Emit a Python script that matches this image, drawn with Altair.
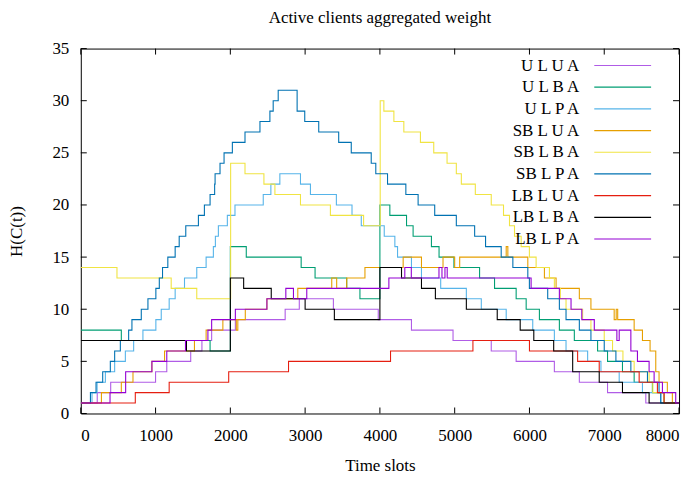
import altair as alt
import pandas as pd

# ---------------- data ----------------
names = ["U L U A", "U L B A", "U L P A", "SB L U A", "SB L B A",
         "SB L P A", "LB L U A", "LB L B A", "LB L P A"]
colors = ["#b05ce6", "#009e73", "#56b4e9", "#e69f00", "#f0e442",
          "#0072b2", "#e51e10", "#000000", "#9400d3"]

x_ticks = [0, 1000, 2000, 3000, 4000, 5000, 6000, 7000, 8000]
y_ticks = [0, 5, 10, 15, 20, 25, 30, 35]

T_ULUA = [0, 220, 400, 1000, 1150, 1470, 1620, 1750, 2067, 2733, 2922, 3378, 3978,
          4422, 4978, 5489, 5822, 6333, 6667, 7044, 7556]
V_ULUA = [1, 2, 3, 4, 5, 6, 7, 8, 9, 10, 11, 10, 9, 8, 7, 6, 5, 4, 3, 2, 1]

T_ULBA = [0, 542, 1729, 2000, 2213, 2947, 3133, 3556, 3733, 4000, 4133, 4356, 4444,
          4689, 4791, 4990, 5333, 5533, 5822, 5956, 6133, 6400, 6600, 6911, 7044,
          7244, 7400, 7644, 7800]
V_ULBA = [8, 7, 6, 16, 15, 14, 13, 12, 11, 20, 19, 18, 17, 16, 15, 14, 13, 12, 11,
          10, 9, 8, 7, 6, 5, 4, 3, 2, 1]

T_ULPA = [0, 150, 218, 329, 453, 596, 707, 831, 1004, 1076, 1182, 1262, 1387, 1551,
          1676, 1773, 1800, 1840, 1960, 2062, 2440, 2542, 2662, 2938, 3071, 3418,
          3627, 3751, 4058, 4200, 4236, 4422, 4556, 4813, 5156, 5356, 5689, 6044,
          6333, 6489, 6778, 6956, 7200, 7511, 7756]
V_ULPA = [1, 2, 3, 4, 5, 6, 7, 8, 9, 10, 11, 12, 13, 14, 15, 16, 17, 18, 19, 20,
          21, 22, 23, 22, 21, 20, 19, 18, 17, 16, 15, 14, 13, 12, 11, 10, 9, 8, 7,
          6, 5, 4, 3, 2, 1]

T_SBLUA = [0, 276, 542, 698, 951, 1120, 1520, 1676, 1900, 2080, 2100, 2200, 2489,
           2902, 3356, 3422, 3556, 3800, 4311, 4556, 4844, 5000, 5067, 5689, 5711,
           5978, 6200, 6356, 6667, 6822, 7133, 7160, 7180, 7400, 7511, 7613, 7689,
           7733, 7844, 7911]
V_SBLUA = [1, 2, 3, 4, 5, 6, 7, 8, 9, 8, 9, 10, 11, 12, 13, 12, 13, 14, 15, 14, 15,
           14, 15, 16, 15, 14, 13, 12, 11, 10, 9, 10, 9, 8, 7, 6, 4, 3, 2, 1]

T_SBLBA = [0, 484, 1209, 1551, 2004, 2196, 2449, 2596, 2938, 3338, 3782, 4004, 4053,
           4187, 4320, 4542, 4720, 4898, 5022, 5089, 5276, 5489, 5653, 5733, 5800,
           5889, 5999, 6089, 6267, 6333, 6413, 6489, 6711, 6822, 7000, 7111, 7250,
           7400, 7600, 7650, 7800]
V_SBLBA = [14, 13, 12, 11, 24, 23, 22, 21, 20, 19, 18, 30, 29, 28, 27, 26, 25, 24,
           23, 22, 21, 20, 19, 18, 17, 16, 15, 14, 13, 12, 11, 10, 9, 8, 7, 6, 5,
           4, 3, 2, 1]

T_SBLPA = [0, 129, 204, 293, 395, 453, 529, 640, 684, 809, 898, 1004, 1050, 1093,
           1164, 1262, 1316, 1404, 1573, 1653, 1729, 1790, 1796, 1862, 1916, 2027,
           2196, 2396, 2529, 2573, 2640, 2893, 2995, 3182, 3449, 3617, 3884, 3945,
           4102, 4347, 4511, 4733, 5022, 5267, 5413, 5622, 5778, 5978, 5999, 6244,
           6400, 6489, 6667, 6822, 7000, 7156, 7356, 7578, 7733, 7756]
V_SBLPA = [1, 2, 3, 4, 5, 6, 7, 8, 9, 10, 11, 12, 13, 14, 15, 16, 17, 18, 19, 20,
           21, 22, 23, 24, 25, 26, 27, 28, 29, 30, 31, 29, 28, 27, 26, 25, 24, 23,
           22, 21, 20, 19, 18, 17, 16, 15, 14, 13, 12, 11, 10, 9, 8, 7, 6, 5, 4, 3,
           2, 1]

T_LBLUA = [0, 729, 1182, 1978, 2778, 4142, 5244, 6000, 6644, 6933, 7467, 7711, 7800]
V_LBLUA = [1, 2, 3, 4, 5, 6, 7, 6, 5, 4, 3, 2, 1]

T_LBLBA = [0, 1413, 2000, 2178, 2547, 3000, 3391, 4000, 4289, 4556, 4742, 5156,
           5569, 5876, 6058, 6324, 6578, 6933, 7244, 7600]
V_LBLBA = [7, 6, 13, 12, 11, 10, 9, 14, 13, 12, 11, 10, 9, 8, 7, 6, 4, 3, 2, 1]

T_LBLPA = [0, 391, 600, 951, 1150, 1400, 1700, 1750, 2067, 2489, 2742, 2844, 3022,
           4120, 4333, 4420, 4790, 4830, 4870, 4900, 6022, 6400, 6556, 6700, 6867,
           7169, 7200, 7356, 7444, 7600, 7667, 7778, 7956]
V_LBLPA = [1, 2, 4, 5, 6, 7, 8, 9, 10, 11, 12, 11, 12, 13, 14, 13, 14, 13, 14, 13,
           12, 11, 10, 9, 8, 7, 8, 6, 5, 4, 3, 2, 1]

series = [
    (T_ULUA, V_ULUA), (T_ULBA, V_ULBA), (T_ULPA, V_ULPA),
    (T_SBLUA, V_SBLUA), (T_SBLBA, V_SBLBA), (T_SBLPA, V_SBLPA),
    (T_LBLUA, V_LBLUA), (T_LBLBA, V_LBLBA), (T_LBLPA, V_LBLPA),
]
T_END = 8000

# ---------------- chart ----------------
W, H = 600, 366
FONT = "Liberation Serif"
FS = 17

x_scale = alt.Scale(domain=[0, 8000], nice=False, zero=False)
y_scale = alt.Scale(domain=[0, 35], nice=False, zero=False)

layers = []
for i, (name, (T, V)) in enumerate(zip(names, series)):
    df = pd.DataFrame({"t": list(T) + [T_END], "v": list(V) + [V[-1]]})
    if i == 0:
        x_enc = alt.X("t:Q", scale=x_scale,
                      axis=alt.Axis(values=x_ticks, title="Time slots", format="d",
                                    labelPadding=14, titlePadding=14, ticks=False,
                                    domain=False, grid=False))
        y_enc = alt.Y("v:Q", scale=y_scale,
                      axis=alt.Axis(values=y_ticks, title="H(C(t))", format="d",
                                    labelPadding=12, titlePadding=26, ticks=False,
                                    domain=False, grid=False))
    else:
        x_enc = alt.X("t:Q", scale=x_scale)
        y_enc = alt.Y("v:Q", scale=y_scale)
    layers.append(
        alt.Chart(df).mark_line(interpolate="step-after", color=colors[i],
                                strokeWidth=1.1, clip=True)
        .encode(x=x_enc, y=y_enc)
    )

# inward ticks on all four sides
xt = pd.DataFrame({"t": x_ticks})
yt = pd.DataFrame({"v": y_ticks})
tick_bottom = alt.Chart(xt).mark_rule(color="black", strokeWidth=1).encode(
    x=alt.X("t:Q", scale=x_scale), y=alt.value(H), y2=alt.value(H - 6))
tick_top = alt.Chart(xt).mark_rule(color="black", strokeWidth=1).encode(
    x=alt.X("t:Q", scale=x_scale), y=alt.value(0), y2=alt.value(6))
tick_left = alt.Chart(yt).mark_rule(color="black", strokeWidth=1).encode(
    y=alt.Y("v:Q", scale=y_scale), x=alt.value(0), x2=alt.value(6))
tick_right = alt.Chart(yt).mark_rule(color="black", strokeWidth=1).encode(
    y=alt.Y("v:Q", scale=y_scale), x=alt.value(W), x2=alt.value(W - 6))

main = alt.layer(*layers, tick_bottom, tick_top, tick_left, tick_right)

# legend (inside, top right)
leg = pd.DataFrame({"series": names, "rank": list(range(len(names)))})
leg_y = alt.Y("rank:O", axis=None,
              scale=alt.Scale(type="point", range=[17, 191], padding=0))
leg_text = alt.Chart(leg).mark_text(align="right", baseline="middle", font=FONT,
                                    fontSize=FS, color="black").encode(
    y=leg_y, x=alt.value(500), text="series:N")
leg_line = alt.Chart(leg).mark_rule(strokeWidth=1.2).encode(
    y=leg_y, x=alt.value(515), x2=alt.value(572),
    color=alt.Color("series:N", scale=alt.Scale(domain=names, range=colors),
                    legend=None))
legend = alt.layer(leg_text, leg_line)

chart = alt.layer(main, legend).resolve_scale(y="independent").properties(
    width=W, height=H, background="white",
    padding={"left": 0, "top": 0, "right": 5, "bottom": 0},
    title=alt.TitleParams("Active clients aggregated weight", font=FONT, fontSize=FS,
                          fontWeight="normal", anchor="middle", offset=13,
                          color="black"),
).configure_view(stroke="black", strokeWidth=1).configure_axis(
    labelFont=FONT, labelFontSize=FS, titleFont=FONT, titleFontSize=FS,
    titleFontWeight="normal", labelColor="black", titleColor="black",
)

chart.save("out.html", embed_options={"renderer": "svg", "actions": False})
